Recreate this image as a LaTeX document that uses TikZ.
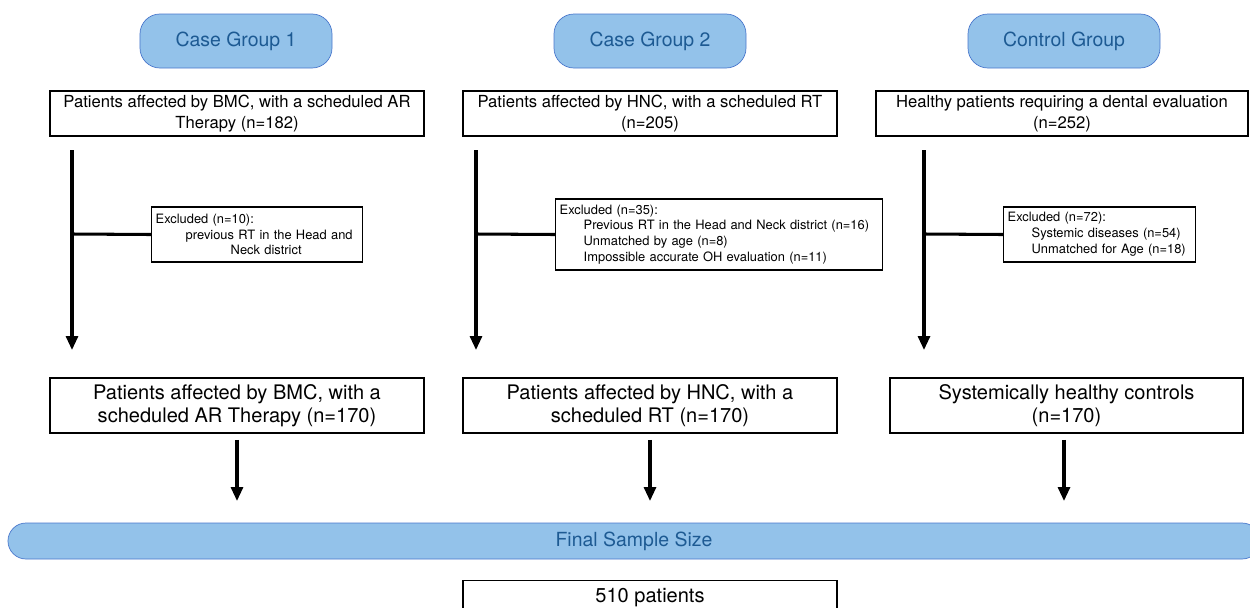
\documentclass[tikz,border=0pt]{standalone}
\usepackage{fontspec}
\setmainfont{TeX Gyre Heros}
\usepackage{xcolor}
\definecolor{pillfill}{HTML}{93C2EA}
\definecolor{pillline}{HTML}{4A78CC}
\definecolor{pilltext}{HTML}{1D5A93}
\usepackage{tikz}
\usetikzlibrary{arrows.meta, positioning}

\begin{document}
\begin{tikzpicture}[x=0.03cm, y=-0.03cm,
  >={Triangle[width=0.36cm, length=0.42cm]},
  grouppill/.style={draw=pillline, fill=pillfill, line width=0.6pt,
        rounded corners=0.6cm, minimum width=5.76cm, minimum height=1.62cm,
        text=pilltext, font=\fontsize{16.6}{19}\selectfont},
  infobox/.style={draw, line width=1.5pt, minimum width=11.22cm,
        minimum height=1.35cm, align=center, inner sep=0pt,
        font=\fontsize{14.2}{18}\selectfont},
  resultbox/.style={infobox, minimum height=1.65cm,
        font=\fontsize{17.1}{19.8}\selectfont},
  exclbox/.style={draw, line width=1.2pt, align=left, anchor=west,
        inner sep=0.12cm, font=\fontsize{11}{13.5}\selectfont},
  flow/.style={->, line width=2.6pt},
  branch/.style={line width=2.6pt},
]
\useasboundingbox (0,0) rectangle (1250,607);

% group headers
\node[grouppill] (case1) at (236,41) {Case Group 1};
\node[grouppill] (case2) at (650,41) {Case Group 2};
\node[grouppill] (ctrl)  at (1064,41) {Control Group};

% enrolled patients
\node[infobox] (enr1) at (237,113.5)
  {Patients affected by BMC, with a scheduled AR\\Therapy (n=182)};
\node[infobox] (enr2) at (650,113.5)
  {Patients affected by HNC, with a scheduled RT\\(n=205)};
\node[infobox, minimum width=11.16cm] (enr3) at (1062,113.5)
  {Healthy patients requiring a dental evaluation\\(n=252)};

% exclusions
\node[exclbox, text width=6.09cm, minimum height=1.65cm] (excl1) at (151,234.5)
  {Excluded (n=10):\\
   \hspace*{0.9cm}previous RT in the Head and\\
   \hspace*{2.25cm}Neck district};
\node[exclbox, text width=9.57cm, minimum height=2.13cm] (excl2) at (555,234.5)
  {Excluded (n=35):\\
   \hspace*{0.72cm}Previous RT in the Head and Neck district (n=16)\\
   \hspace*{0.72cm}Unmatched by age (n=8)\\
   \hspace*{0.72cm}Impossible accurate OH evaluation (n=11)};
\node[exclbox, text width=5.52cm, minimum height=1.65cm] (excl3) at (1003,234.5)
  {Excluded (n=72):\\
   \hspace*{0.72cm}Systemic diseases (n=54)\\
   \hspace*{0.72cm}Unmatched for Age (n=18)};

% matched samples
\node[resultbox] (res1) at (237,405.5)
  {Patients affected by BMC, with a\\scheduled AR Therapy (n=170)};
\node[resultbox] (res2) at (650,405.5)
  {Patients affected by HNC, with a\\scheduled RT (n=170)};
\node[resultbox, minimum width=10.59cm] (res3) at (1066.5,405.5)
  {Systemically healthy controls\\(n=170)};

% final sample
\node[grouppill, minimum width=37.56cm, minimum height=1.08cm,
      rounded corners=0.54cm] (final) at (634,541) {Final Sample Size};
\node[infobox, minimum height=1.05cm, font=\fontsize{17.1}{20}\selectfont]
  (total) at (650,598) {510 patients};

% flow lines
\coordinate (top1) at (72,150);   \coordinate (bot1) at (72,350);
\coordinate (top2) at (476,150);  \coordinate (bot2) at (476,350);
\coordinate (top3) at (924,150);  \coordinate (bot3) at (924,350);
\coordinate (fork1) at (72,234);
\coordinate (fork2) at (476,234);
\coordinate (fork3) at (924,234);

\draw[flow] (top1) -- (bot1);
\draw[flow] (top2) -- (bot2);
\draw[flow] (top3) -- (bot3);
\draw[branch] (fork1) -- (excl1.west);
\draw[branch] (fork2) -- (excl2.west);
\draw[branch] (fork3) -- (excl3.west);

\coordinate (end1) at (237,501);
\coordinate (end2) at (650,501);
\coordinate (end3) at (1064,501);
\draw[flow] ([yshift=-0.18cm]res1.south) -- (end1);
\draw[flow] ([yshift=-0.18cm]res2.south) -- (end2);
\draw[flow] ([yshift=-0.18cm, xshift=-0.075cm]res3.south) -- (end3);

\end{tikzpicture}
\end{document}
